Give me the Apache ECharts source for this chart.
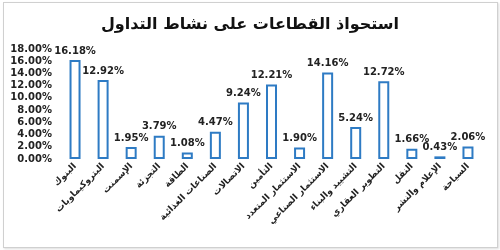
<!DOCTYPE html>
<html><head><meta charset="utf-8">
<script src="https://cdn.jsdelivr.net/npm/echarts@6/dist/echarts.min.js"></script>
<style>
html,body{margin:0;padding:0;background:#fff;}
#frame{position:absolute;left:3px;top:2px;width:493px;height:244px;border:1px solid #d0d0d0;box-shadow:1px 1px 2px #ddd;}
#c{position:absolute;left:0;top:0;width:500px;height:250px;}
</style></head>
<body><div id="frame"></div><div id="c"></div>
<script>
const categories = ["البنوك","البتروكيماويات","الإسمنت","التجزئة","الطاقة","الصناعات الغذائية","الاتصالات","التأمين","الاستثمار المتعدد","الاستثمار الصناعي","التشييد والبناء","التطوير العقاري","النقل","الإعلام والنشر","السياحة"];
const values = [16.18,12.92,1.95,3.79,1.08,4.47,9.24,12.21,1.90,14.16,5.24,12.72,1.66,0.43,2.06];
const titleText = "استحواذ القطاعات على نشاط التداول";

const chart = echarts.init(document.getElementById('c'), null, {renderer:'canvas'});
chart.setOption({
  backgroundColor:'transparent',
  animation:false,
  title:{text:titleText,left:'center',top:12,textStyle:{fontFamily:'DejaVu Sans',fontWeight:'bold',fontSize:16,color:'#111'}},
  grid:{left:61,right:18,top:49,bottom:91,containLabel:false},
  xAxis:{type:'category',data:categories,axisLine:{show:false},axisTick:{show:false},
    axisLabel:{interval:0,rotate:45,margin:6,fontFamily:'DejaVu Sans',fontSize:9,fontWeight:'bold',color:'#222'}},
  yAxis:{type:'value',min:0,max:18,interval:2,splitLine:{show:false},axisLine:{show:false},axisTick:{show:false},
    axisLabel:{formatter:v=>v.toFixed(2)+'%',fontFamily:'DejaVu Sans',fontSize:10,fontWeight:'bold',color:'#222',margin:9}},
  series:[{type:'bar',data:values,barWidth:11,
    itemStyle:{color:'#fff',borderColor:'#2e7bc4',borderWidth:2},
    label:{show:true,position:'top',distance:4,formatter:p=>p.value.toFixed(2)+'%',fontFamily:'DejaVu Sans',fontSize:10,fontWeight:'bold',color:'#222'}}]
});
</script></body></html>
